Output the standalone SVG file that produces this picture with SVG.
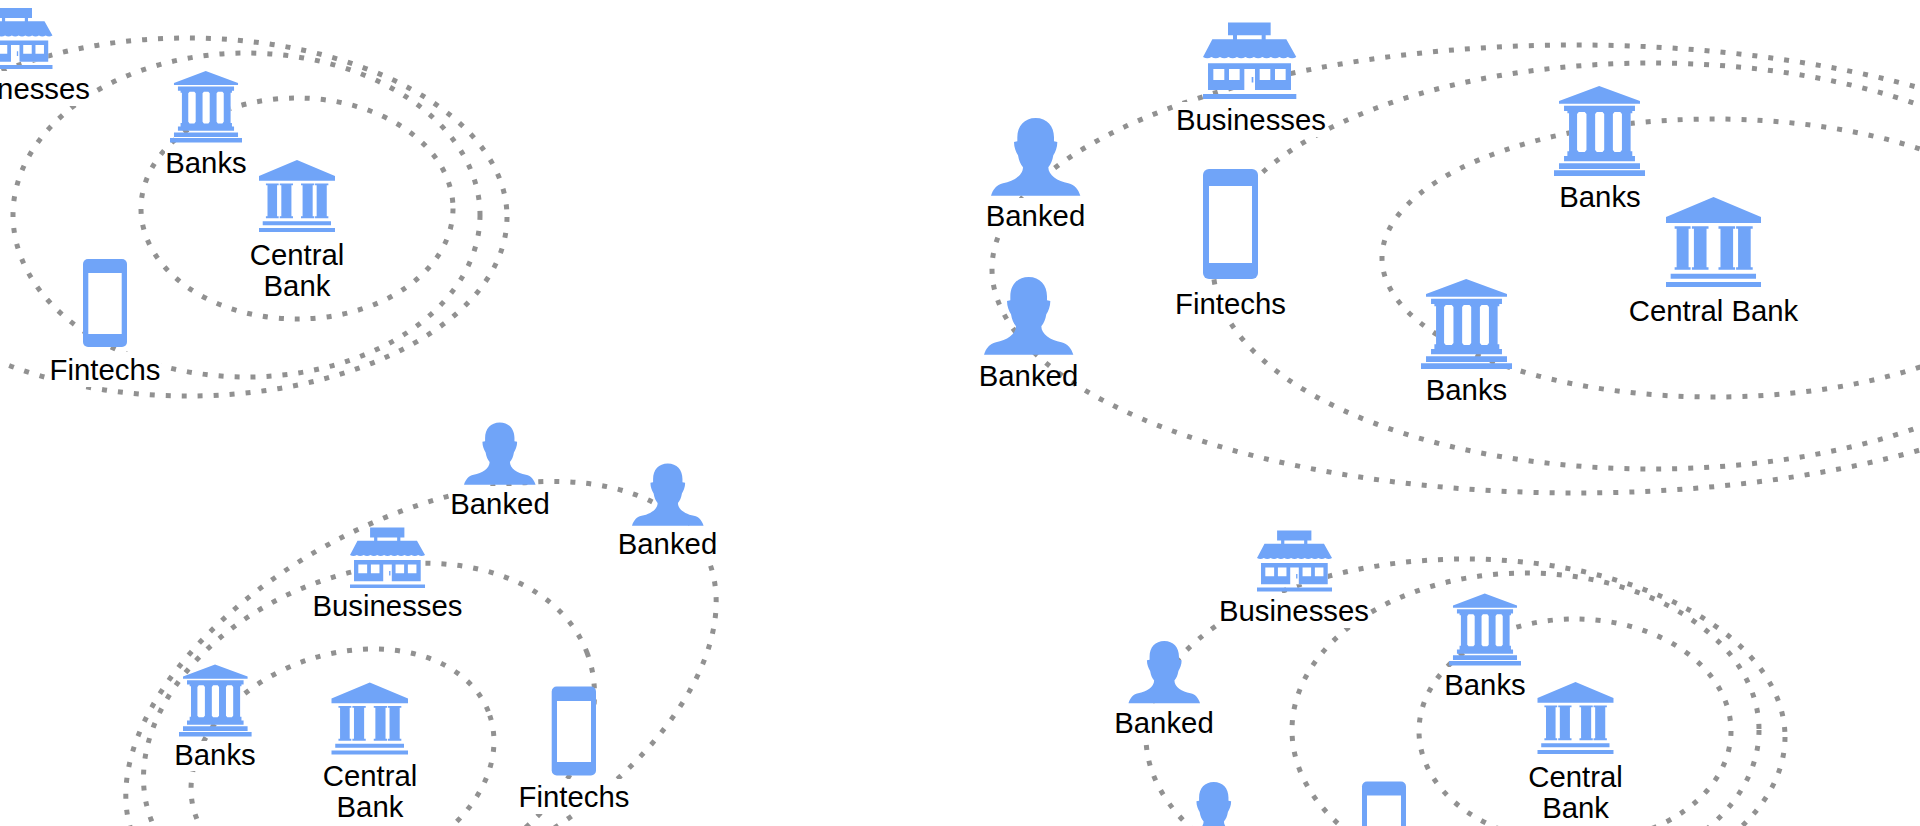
<svg xmlns="http://www.w3.org/2000/svg" width="1920" height="826" viewBox="0 0 1920 826">
<style>
.ring{fill:none;stroke:#919191;stroke-width:5;stroke-dasharray:5 11}
.i{fill:#70a4f8}
.w{fill:#fff}
text{font-family:"Liberation Sans",Arial,sans-serif;font-size:29.33px;fill:#000;text-anchor:middle}
</style>
<defs>
<g id="bank"><rect class="w" x="45" y="75" width="184" height="135"/><path class="i" d="M135 0L257 45V53H15V45ZM30 59H242V75H234V82H229V196H234V210H242V226H30V210H40V196H45V82H40V75H30ZM15 232H257V249H15ZM0 253H272V270H0Z"/><path class="w" d="M69 84L74 78H92L97 84V192L92 198H74L69 192ZM123 84L128 78H145L150 84V192L145 198H128L123 192ZM176 84L181 78H198L203 84V192L198 198H181L176 192Z"/></g>
<g id="central"><path class="i" d="M143 0L286 60V78H0V60ZM26 88H74V95H68V211H74V218H26V211H32V95H26ZM78 88H128V95H122V211H128V218H78V211H84V95H78ZM158 88H208V95H202V211H208V218H158V211H164V95H158ZM211 88H261V95H255V211H261V218H211V211H217V95H211ZM14 230H271V245H14ZM0 255H286V270H0Z"/></g>
<g id="store"><rect class="w" x="15" y="122" width="249" height="80"/><path class="i" fill-rule="evenodd" d="M75 0H203V38H188V50H250L280 103q-12.7 8-25.45 0q-12.7 8-25.45 0q-12.7 8-25.45 0q-12.7 8-25.45 0q-12.7 8-25.45 0q-12.7 8-25.45 0q-12.7 8-25.45 0q-12.7 8-25.45 0q-12.7 8-25.45 0q-12.7 8-25.45 0q-12.7 8-25.45 0L28 50H90V38H75ZM102 38V50H176V38ZM15 122H264V202H156V139H124V202H15ZM31 139V172H64V139ZM78 139V172H110V139ZM170 139V172H202V139ZM216 139V172H248V139ZM146 163H151V180H146ZM0 214H280V229H0Z"/></g>
<path id="person" class="i" d="M134 0C168 0 189 24 189 58V70L199 72C199 88 193 103 187 112C184 128 180 138 172 148C172 172 200 190 232 196C252 200 262 215 268 233H0C6 215 16 200 36 196C68 190 96 172 96 148C88 138 84 128 81 112C75 103 69 88 69 72L79 70V58C79 24 100 0 134 0Z"/>
</defs>
<rect width="1920" height="826" fill="#fff"/>
<g id="connectors">
<ellipse class="ring" cx="297" cy="208.5" rx="156" ry="110.5"/>
<ellipse class="ring" cx="246.5" cy="215" rx="233.5" ry="162"/>
<ellipse class="ring" cx="187.5" cy="217" rx="319.5" ry="179"/>
<ellipse class="ring" cx="1714" cy="258" rx="332" ry="139"/>
<ellipse class="ring" cx="1652" cy="266" rx="439" ry="203"/>
<ellipse class="ring" cx="1576" cy="269" rx="584" ry="224"/>
<ellipse class="ring" cx="342.5" cy="765" rx="155.4" ry="110.7" transform="rotate(-18.6 342.5 765)"/>
<ellipse class="ring" cx="369" cy="736" rx="233.4" ry="162" transform="rotate(-21 369 736)"/>
<ellipse class="ring" cx="421" cy="698.5" rx="319.4" ry="179.5" transform="rotate(-27.5 421 698.5)"/>
<ellipse class="ring" cx="1575" cy="731" rx="156" ry="112"/>
<ellipse class="ring" cx="1525.5" cy="730" rx="233.5" ry="157"/>
<ellipse class="ring" cx="1465.5" cy="737" rx="319.5" ry="178"/>
</g>
<g id="tl-businesses"><use href="#store" transform="translate(-22 8) scale(.266)"/><rect class="w" x="-61" y="71" width="152" height="35"/><text x="15" y="98.5">Businesses</text></g>
<g id="tl-banks"><use href="#bank" transform="translate(170 71) scale(.2647)"/><rect class="w" x="165" y="145" width="82" height="35"/><text x="206" y="172.5">Banks</text></g>
<g id="tl-central"><use href="#central" transform="translate(259 160) scale(.2657 .2667)"/><text x="297" y="264.5">Central</text><text x="297" y="295.5">Bank</text></g>
<g id="tl-fintechs"><rect class="i" x="83" y="259" width="44" height="88" rx="5"/><rect class="w" x="88.3" y="273" width="33.4" height="61"/><rect class="w" x="49" y="352" width="112" height="35"/><text x="105" y="379.5">Fintechs</text></g>

<g id="tr-businesses"><use href="#store" transform="translate(1203 22.6) scale(.3333)"/><rect class="w" x="1175" y="102" width="152" height="35"/><text x="1251" y="129.5">Businesses</text></g>
<g id="tr-banked-1"><use href="#person" transform="translate(991 118) scale(.3333)"/><rect class="w" x="985" y="198" width="101" height="35"/><text x="1035.5" y="225.5">Banked</text></g>
<g id="tr-banked-2"><use href="#person" transform="translate(984 277) scale(.3333)"/><text x="1028.5" y="385.5">Banked</text></g>
<g id="tr-fintechs"><rect class="i" x="1203" y="169" width="55" height="110" rx="6"/><rect class="w" x="1209" y="186" width="43" height="77"/><rect class="w" x="1175" y="286" width="112" height="35"/><text x="1230.5" y="313.5">Fintechs</text></g>
<g id="tr-banks-1"><use href="#bank" transform="translate(1554 86) scale(.3346 .3333)"/><rect class="w" x="1558" y="179" width="84" height="35"/><text x="1600" y="206.5">Banks</text></g>
<g id="tr-banks-2"><use href="#bank" transform="translate(1421 279) scale(.3346 .3333)"/><rect class="w" x="1425" y="372" width="84" height="35"/><text x="1466.5" y="399.5">Banks</text></g>
<g id="tr-central"><use href="#central" transform="translate(1666 197) scale(.3322 .3333)"/><rect class="w" x="1628" y="293" width="172" height="35"/><text x="1713.5" y="320.5">Central Bank</text></g>

<g id="bl-banked-1"><use href="#person" transform="translate(464 422.5) scale(.267)"/><rect class="w" x="449" y="486" width="102" height="35"/><text x="500" y="513.5">Banked</text></g>
<g id="bl-banked-2"><use href="#person" transform="translate(632 463.5) scale(.267)"/><rect class="w" x="617" y="526" width="102" height="35"/><text x="667.5" y="553.5">Banked</text></g>
<g id="bl-businesses"><use href="#store" transform="translate(350 527.5) scale(.2679 .2664)"/><rect class="w" x="312" y="588" width="152" height="35"/><text x="387.5" y="615.5">Businesses</text></g>
<g id="bl-fintechs"><rect class="i" x="551.7" y="686.5" width="44.3" height="89" rx="5"/><rect class="w" x="557" y="701" width="34" height="61"/><rect class="w" x="518" y="779" width="112" height="35"/><text x="574" y="806.5">Fintechs</text></g>
<g id="bl-banks"><use href="#bank" transform="translate(179 664.5) scale(.2669 .2667)"/><rect class="w" x="174" y="741" width="82" height="30"/><text x="215" y="764.5">Banks</text></g>
<g id="bl-central"><use href="#central" transform="translate(331.5 682.5) scale(.2675 .2667)"/><text x="370" y="785.5">Central</text><text x="370" y="817">Bank</text></g>

<g id="br-businesses"><use href="#store" transform="translate(1257 530.5) scale(.2679 .2664)"/><rect class="w" x="1218" y="593" width="152" height="35"/><text x="1294" y="620.5">Businesses</text></g>
<g id="br-banked-1"><use href="#person" transform="translate(1128.5 641) scale(.267)"/><rect class="w" x="1113" y="705" width="102" height="35"/><text x="1164" y="732.5">Banked</text></g>
<g id="br-banks"><use href="#bank" transform="translate(1449 593.5) scale(.2647 .2667)"/><rect class="w" x="1444" y="667" width="82" height="35"/><text x="1485" y="694.5">Banks</text></g>
<g id="br-central"><use href="#central" transform="translate(1537.5 682) scale(.2657 .2667)"/><text x="1575.6" y="786.5">Central</text><text x="1575.6" y="818">Bank</text></g>
<g id="br-banked-2"><use href="#person" transform="translate(1178 782) scale(.267)"/></g>
<g id="br-fintechs"><rect class="i" x="1362" y="781.5" width="44" height="88" rx="5"/><rect class="w" x="1367" y="795.5" width="34" height="61"/></g>
</svg>
